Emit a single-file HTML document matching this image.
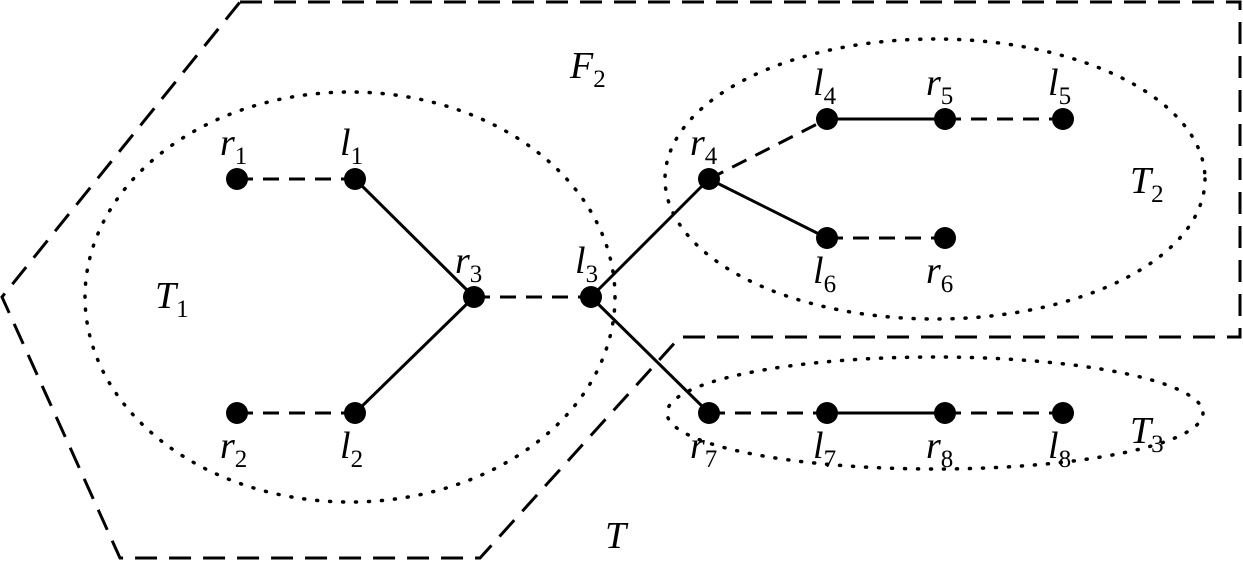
<!DOCTYPE html>
<html><head><style>body{margin:0;background:#fff}svg{display:block}</style></head><body>
<svg width="1243" height="564" viewBox="0 0 1243 564" xmlns="http://www.w3.org/2000/svg">
<g fill="none" stroke="#000" stroke-width="3">
<path d="M240,2 L1240,2 L1240,337 L680,337 L480,558 L120,558 L2,297 Z" stroke-dasharray="22,12"/>
<g stroke-dasharray="1,12" stroke-linecap="round" stroke-width="3.5">
<ellipse cx="350" cy="297" rx="265" ry="205"/>
<ellipse cx="935" cy="179" rx="270" ry="140"/>
<ellipse cx="935" cy="413" rx="268" ry="56"/>
</g>
<g stroke-dasharray="16,10">
<line x1="237" y1="179" x2="355" y2="179"/>
<line x1="237" y1="413" x2="355" y2="413"/>
<line x1="474" y1="297" x2="591" y2="297"/>
<line x1="709" y1="179" x2="827" y2="119"/>
<line x1="945" y1="119" x2="1063" y2="119"/>
<line x1="827" y1="238" x2="945" y2="238"/>
<line x1="709" y1="413" x2="827" y2="413"/>
<line x1="945" y1="413" x2="1063" y2="413"/>
</g>
<line x1="355" y1="179" x2="474" y2="297"/>
<line x1="355" y1="413" x2="474" y2="297"/>
<line x1="591" y1="297" x2="709" y2="179"/>
<line x1="591" y1="297" x2="709" y2="413"/>
<line x1="709" y1="179" x2="827" y2="238"/>
<line x1="827" y1="119" x2="945" y2="119"/>
<line x1="827" y1="413" x2="945" y2="413"/>
</g>
<g fill="#000">
<circle cx="237" cy="179" r="11"/><circle cx="355" cy="179" r="11"/>
<circle cx="474" cy="297" r="11"/><circle cx="591" cy="297" r="11"/>
<circle cx="237" cy="413" r="11"/><circle cx="355" cy="413" r="11"/>
<circle cx="709" cy="179" r="11"/><circle cx="827" cy="119" r="11"/>
<circle cx="945" cy="119" r="11"/><circle cx="1063" cy="119" r="11"/>
<circle cx="827" cy="238" r="11"/><circle cx="945" cy="238" r="11"/>
<circle cx="709" cy="413" r="11"/><circle cx="827" cy="413" r="11"/>
<circle cx="945" cy="413" r="11"/><circle cx="1063" cy="413" r="11"/>
</g>
<g font-family="Liberation Serif, serif" font-style="italic" font-size="38" fill="#000">
<text x="220" y="155">r<tspan font-size="25" dy="9" font-style="normal">1</tspan></text>
<text x="340" y="155">l<tspan font-size="25" dy="9" font-style="normal">1</tspan></text>
<text x="455" y="273">r<tspan font-size="25" dy="9" font-style="normal">3</tspan></text>
<text x="575" y="273">l<tspan font-size="25" dy="9" font-style="normal">3</tspan></text>
<text x="220" y="458">r<tspan font-size="25" dy="9" font-style="normal">2</tspan></text>
<text x="340" y="458">l<tspan font-size="25" dy="9" font-style="normal">2</tspan></text>
<text x="690" y="155">r<tspan font-size="25" dy="9" font-style="normal">4</tspan></text>
<text x="813" y="95">l<tspan font-size="25" dy="9" font-style="normal">4</tspan></text>
<text x="926" y="95">r<tspan font-size="25" dy="9" font-style="normal">5</tspan></text>
<text x="1048" y="95">l<tspan font-size="25" dy="9" font-style="normal">5</tspan></text>
<text x="813" y="283">l<tspan font-size="25" dy="9" font-style="normal">6</tspan></text>
<text x="926" y="283">r<tspan font-size="25" dy="9" font-style="normal">6</tspan></text>
<text x="690" y="458">r<tspan font-size="25" dy="9" font-style="normal">7</tspan></text>
<text x="813" y="458">l<tspan font-size="25" dy="9" font-style="normal">7</tspan></text>
<text x="926" y="458">r<tspan font-size="25" dy="9" font-style="normal">8</tspan></text>
<text x="1048" y="458">l<tspan font-size="25" dy="9" font-style="normal">8</tspan></text>
<text x="155" y="308">T<tspan font-size="25" dy="9" font-style="normal">1</tspan></text>
<text x="1130" y="193">T<tspan font-size="25" dy="9" font-style="normal">2</tspan></text>
<text x="1130" y="443">T<tspan font-size="25" dy="9" font-style="normal">3</tspan></text>
<text x="570" y="78">F<tspan font-size="25" dy="9" font-style="normal">2</tspan></text>
<text x="605" y="548">T</text>
</g>
</svg>
</body></html>
